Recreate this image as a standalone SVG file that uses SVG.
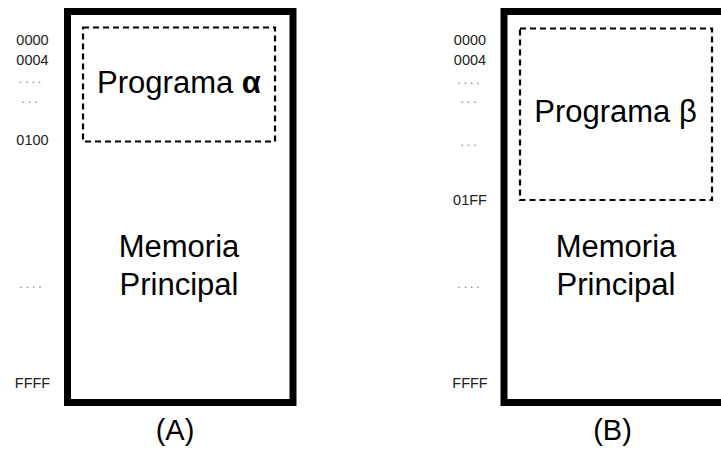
<svg xmlns="http://www.w3.org/2000/svg" width="721" height="450" viewBox="0 0 721 450">
  <style>
    .mem { fill: #ffffff; stroke: #000000; stroke-width: 7; }
    .prog { fill: none; stroke: #000000; stroke-width: 2.2; stroke-dasharray: 6 4; }
    .big { font-family: "Liberation Sans", Arial, sans-serif; font-size: 31px; fill: #000000; text-anchor: middle; }
    .addr { font-family: "Liberation Sans", Arial, sans-serif; font-size: 14.5px; fill: #222222; text-anchor: middle; }
    .dots { font-family: "Liberation Sans", Arial, sans-serif; font-size: 12px; fill: #777777; text-anchor: middle; letter-spacing: 3px; }
    .cap { font-family: "Liberation Sans", Arial, sans-serif; font-size: 29px; fill: #000000; text-anchor: middle; }
  </style>
  <rect width="721" height="450" fill="#ffffff"/>

  <g id="memoryA">
    <rect class="mem" x="67.5" y="11.5" width="225.5" height="391"/>
    <text class="big" x="179" y="257">Memoria</text>
    <text class="big" x="179" y="295">Principal</text>
  </g>
  <g id="programA">
    <rect class="prog" x="83" y="27.5" width="192" height="114"/>
    <text class="big" x="179" y="92.5">Programa <tspan font-weight="bold">α</tspan></text>
  </g>
  <g id="addressesA">
    <text class="addr" x="32.5" y="45">0000</text>
    <text class="addr" x="32.5" y="65">0004</text>
    <text class="dots" x="31.5" y="83">....</text>
    <text class="dots" x="31" y="103">...</text>
    <text class="addr" x="32.5" y="144.5">0100</text>
    <text class="dots" x="32" y="288">....</text>
    <text class="addr" x="32.5" y="388">FFFF</text>
  </g>
  <g id="labelA">
    <text class="cap" x="175" y="440">(A)</text>
  </g>

  <g id="memoryB">
    <rect class="mem" x="504" y="11.5" width="226" height="391"/>
    <text class="big" x="616" y="257">Memoria</text>
    <text class="big" x="616" y="295">Principal</text>
  </g>
  <g id="programB">
    <rect class="prog" x="520" y="28.5" width="192" height="171.5"/>
    <text class="big" x="615.5" y="121.5">Programa β</text>
  </g>
  <g id="addressesB">
    <text class="addr" x="470" y="45">0000</text>
    <text class="addr" x="470" y="65">0004</text>
    <text class="dots" x="470" y="84">....</text>
    <text class="dots" x="470" y="103">...</text>
    <text class="dots" x="470" y="146">...</text>
    <text class="addr" x="470" y="205">01FF</text>
    <text class="dots" x="470" y="288">....</text>
    <text class="addr" x="470" y="388">FFFF</text>
  </g>
  <g id="labelB">
    <text class="cap" x="612.5" y="440">(B)</text>
  </g>

  <g id="connectors"></g>
</svg>
